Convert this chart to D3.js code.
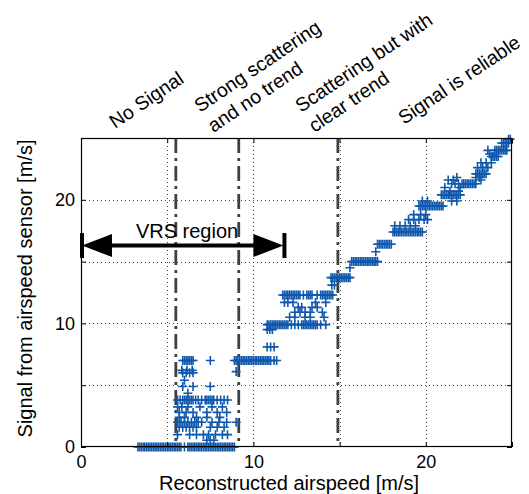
<!DOCTYPE html>
<html>
<head>
<meta charset="utf-8">
<script src="https://cdn.jsdelivr.net/npm/d3@7"></script>
<style>
  html, body { margin: 0; padding: 0; background: #fff; }
  svg { display: block; font-family: "Liberation Sans", Arial, Helvetica, sans-serif; }
</style>
</head>
<body>
<svg id="chart" width="529" height="494"></svg>
<script>
// Quantised airspeed-sensor output [m/s]; sensorLevels[i] pairs with reconstructedAtLevel[i]
const sensorLevels = [
  0, 0.55, 1.0, 1.6, 2.0, 2.4, 2.8, 3.25, 3.8, 4.35, 4.9, 5.4, 6.0, 6.2, 6.1, 7.0,
  8.1, 9.5, 9.9, 10.5, 10.9, 11.3, 11.7, 12.3, 13.1, 13.7, 14.5, 15.0, 15.8, 16.4,
  17.4, 17.9, 18.4, 18.8, 19.5, 19.9, 20.4, 20.7, 21.0, 21.3, 21.6, 21.8, 22.1,
  22.6, 23.0, 23.5, 23.7, 24.0, 24.6, 24.9
];

// Reconstructed airspeed [m/s] of every sample recorded at the matching sensor level
const reconstructedAtLevel = [
  [3.3, 3.4, 3.5, 3.6, 3.7, 3.8, 3.9, 4.0, 4.1, 4.2, 4.3, 4.4, 4.5, 4.6, 4.7, 4.8, 4.9, 5.0,
   5.1, 5.2, 5.3, 5.4, 5.5, 5.6, 5.7, 5.8, 6.0, 6.2, 6.3, 6.4, 6.5, 6.6, 6.7, 6.8, 6.9, 7.0,
   7.1, 7.2, 7.3, 7.4, 7.5, 7.6, 7.7, 7.8, 7.9, 8.0, 8.1, 8.2, 8.3, 8.4, 8.5, 8.6, 8.7, 8.8, 8.9],
  [7.3, 7.5, 7.7],
  [5.6, 6.3, 6.7, 7.1, 7.4, 7.8, 8.2, 8.5],
  [5.7, 5.9, 6.1, 6.3, 6.5, 6.7, 7.5, 7.9, 8.3],
  [5.6, 5.8, 6.0, 6.2, 6.4, 6.6, 6.8, 7.0, 7.6, 8.0, 8.45, 9.0],
  [5.7, 6.0, 6.7, 7.3, 8.05],
  [5.7, 6.1, 6.5, 7.3, 7.9, 8.45],
  [5.6, 5.85, 6.2, 6.9, 7.6, 8.2],
  [5.6, 5.75, 5.9, 6.0, 6.1, 6.2, 6.3, 6.4, 6.5, 6.65, 6.8, 7.0, 7.2, 7.3, 7.4, 7.5, 7.6,
   7.7, 7.9, 8.1, 8.3, 8.5],
  [6.2],
  [5.9, 6.5, 7.5],
  [6.0],
  [5.9, 6.1, 6.3, 6.5],
  [5.85, 6.15, 6.45],
  [9.0],
  [5.9, 6.0, 6.1, 6.2, 6.3, 6.4, 6.5, 7.5, 8.9, 9.0, 9.1, 9.2, 9.3, 9.4, 9.5, 9.6, 9.7,
   9.8, 9.9, 10.0, 10.1, 10.2, 10.3, 10.4, 10.5, 10.6, 10.7, 10.8, 10.9, 11.0, 11.2, 11.35],
  [10.8, 11.0, 11.2],
  [10.8, 10.95, 11.1],
  [10.8, 10.9, 11.0, 11.1, 11.2, 11.3, 11.4, 11.5, 11.6, 11.7, 11.8, 11.9, 12.0, 12.2, 12.4,
   12.6, 12.8, 12.9, 13.0, 13.1, 13.2, 13.3, 13.4, 13.5, 13.6, 13.7, 13.9, 14.2],
  [12.1, 12.4, 13.0, 13.3, 14.1],
  [12.4, 12.7, 13.0, 13.3, 14.0],
  [12.6, 12.8, 13.4, 13.7],
  [11.8, 12.0, 12.3, 13.6, 14.2],
  [11.7, 11.8, 11.9, 12.0, 12.1, 12.2, 12.3, 12.4, 12.5, 12.6, 12.7, 12.9, 13.1, 13.2, 13.3,
   13.4, 13.7, 13.9, 14.0, 14.1, 14.2, 14.3, 14.4, 14.5, 14.6],
  [14.55, 14.7],
  [14.5, 14.6, 14.7, 14.8, 14.9, 15.0, 15.1, 15.2, 15.3, 15.4, 15.5, 15.6],
  [15.6],
  [15.7, 15.8, 15.9, 16.0, 16.1, 16.2, 16.3, 16.4, 16.5, 16.6, 16.7, 16.8, 16.9, 17.0, 17.1, 17.2],
  [17.1],
  [17.2, 17.3, 17.4, 17.5, 17.6, 17.7, 17.8, 17.9, 18.0],
  [18.1, 18.2, 18.3, 18.4, 18.5, 18.6, 18.7, 18.8, 18.9, 19.0, 19.1, 19.2, 19.3, 19.4, 19.5,
   19.6, 19.7, 19.8],
  [18.2, 18.5, 18.8, 19.1, 19.4],
  [19.0, 19.3, 19.6, 19.9, 20.1],
  [19.3, 19.7, 20.0],
  [19.6, 19.7, 19.8, 19.9, 20.0, 20.1, 20.2, 20.3, 20.4, 20.5, 20.6, 20.7, 20.8, 20.9, 21.0],
  [19.8, 20.1, 21.5, 21.8],
  [20.9, 21.0, 21.1, 21.2, 21.3, 21.4, 21.5, 21.6, 21.7, 21.8, 21.9, 22.0],
  [21.4, 21.9],
  [21.1, 22.0],
  [21.5, 21.7, 21.9, 22.1, 22.2, 22.3, 22.4, 22.5, 22.6, 22.7, 22.8, 22.9],
  [21.3, 21.6, 23.2],
  [21.8, 22.9, 23.1],
  [22.9, 23.0, 23.1, 23.2, 23.3, 23.4, 23.5],
  [23.0, 23.3, 23.6],
  [23.2, 23.5, 23.8],
  [23.8, 23.9, 24.0, 24.1, 24.2],
  [23.7],
  [23.6, 24.0, 24.1, 24.2, 24.3, 24.4, 24.5, 24.6, 24.7],
  [24.4, 24.5, 24.6, 24.7, 24.8],
  [24.8, 24.9]
];

// Regime boundaries along the reconstructed airspeed [m/s]
const regimeBounds = [5.5, 9.15, 14.9];

// Regime captions, one entry per text line
const regimeCaptions = [
  ["No Signal"],
  ["Strong scattering", "and no trend"],
  ["Scattering but with", "clear trend"],
  ["Signal is reliable"]
];

// Vortex-ring-state span [m/s] and the sensor level its arrow sits at
const vrsSpan = [0, 11.8];
const vrsLevel = 16.3;
const vrsLabel = "VRS region";

const axisTicks = [0, 5, 10, 15, 20, 25];
const labelledTicks = [0, 10, 20];
const xTitle = "Reconstructed airspeed [m/s]";
const yTitle = "Signal from airspeed sensor [m/s]";

// ---------------------------------------------------------------------------
const svg = d3.select("#chart");
const plot = { left: 81, right: 512, top: 138, bottom: 447 };
const markerColor = "#0f58ac";
const textSize = 20;
const tickSize = 18;

const x = d3.scaleLinear().domain([0, 25]).range([plot.left, plot.right]);
const y = d3.scaleLinear().domain([0, 25]).range([plot.bottom, plot.top]);

const points = sensorLevels.flatMap((lvl, i) =>
  reconstructedAtLevel[i].map(v => ({ airspeed: v, sensor: lvl })));

// dotted grid
const grid = svg.append("g").attr("class", "grid")
  .attr("stroke", "#444").attr("stroke-width", 1).attr("stroke-dasharray", "1,3");
grid.selectAll("line.gx").data(axisTicks.slice(1, -1)).join("line")
  .attr("class", "gx")
  .attr("x1", d => Math.round(x(d)) + 0.5).attr("x2", d => Math.round(x(d)) + 0.5)
  .attr("y1", plot.top).attr("y2", plot.bottom);
grid.selectAll("line.gy").data(axisTicks.slice(1, -1)).join("line")
  .attr("class", "gy")
  .attr("y1", d => Math.round(y(d)) + 0.5).attr("y2", d => Math.round(y(d)) + 0.5)
  .attr("x1", plot.left).attr("x2", plot.right);

// dash-dot regime boundaries
svg.append("g").selectAll("line").data(regimeBounds).join("line")
  .attr("x1", d => x(d)).attr("x2", d => x(d))
  .attr("y1", plot.top).attr("y2", plot.bottom)
  .attr("stroke", "#3a4242").attr("stroke-width", 2.8)
  .attr("stroke-dasharray", "15,5,3,5");

// samples drawn as '+' markers
const arm = 4.5;
svg.append("g").attr("class", "samples")
  .attr("stroke", markerColor).attr("stroke-width", 1.6).attr("fill", "none")
  .selectAll("path").data(points).join("path")
  .attr("d", d => {
    const cx = x(d.airspeed), cy = y(d.sensor);
    return `M${cx - arm},${cy}H${cx + arm}M${cx},${cy - arm}V${cy + arm}`;
  });

// axes: inward ticks on all four sides, labels on bottom and left only
const fmt = d => labelledTicks.includes(d) ? d3.format("d")(d) : "";
const axes = [
  { ax: d3.axisBottom(x).tickValues(axisTicks).tickFormat(fmt).tickSizeInner(-5).tickSizeOuter(0).tickPadding(8), tr: `translate(0,${plot.bottom})` },
  { ax: d3.axisLeft(y).tickValues(axisTicks).tickFormat(fmt).tickSizeInner(-5).tickSizeOuter(0).tickPadding(6), tr: `translate(${plot.left},0)` },
  { ax: d3.axisTop(x).tickValues(axisTicks).tickFormat("").tickSizeInner(-5).tickSizeOuter(0), tr: `translate(0,${plot.top})` },
  { ax: d3.axisRight(y).tickValues(axisTicks).tickFormat("").tickSizeInner(-5).tickSizeOuter(0), tr: `translate(${plot.right},0)` }
];
axes.forEach(({ ax, tr }) => {
  const g = svg.append("g").attr("transform", tr).call(ax);
  g.select(".domain").remove();
  g.selectAll(".tick line").attr("stroke", "#000").attr("stroke-width", 1);
  g.selectAll(".tick text").attr("fill", "#000")
    .attr("font-size", tickSize).attr("font-family", "Liberation Sans, Arial, sans-serif");
});

// axes box
svg.append("rect")
  .attr("x", plot.left + 0.5).attr("y", plot.top + 0.5)
  .attr("width", plot.right - plot.left - 1).attr("height", plot.bottom - plot.top - 1)
  .attr("fill", "none").attr("stroke", "#000").attr("stroke-width", 1.2);

// VRS region double arrow with end bars
const ay = y(vrsLevel), ax0 = x(vrsSpan[0]), ax1 = x(vrsSpan[1]);
const head = 31, halfH = 11.5, barH = 12.5;
const arrow = svg.append("g").attr("class", "vrs");
arrow.append("line")
  .attr("x1", ax0 + head - 2).attr("x2", ax1 - head + 2)
  .attr("y1", ay).attr("y2", ay)
  .attr("stroke", "#000").attr("stroke-width", 4);
arrow.append("path")
  .attr("d", `M${ax0 + 1},${ay}L${ax0 + head},${ay - halfH}L${ax0 + head},${ay + halfH}Z`)
  .attr("fill", "#000");
arrow.append("path")
  .attr("d", `M${ax1 - 1},${ay}L${ax1 - head},${ay - halfH}L${ax1 - head},${ay + halfH}Z`)
  .attr("fill", "#000");
[ax0 + 1, ax1].forEach(bx => arrow.append("line")
  .attr("x1", bx).attr("x2", bx).attr("y1", ay - barH).attr("y2", ay + barH)
  .attr("stroke", "#000").attr("stroke-width", 4));
arrow.append("text")
  .attr("x", x(6.15)).attr("y", ay - 8)
  .attr("text-anchor", "middle").attr("font-size", textSize).attr("fill", "#000")
  .text(vrsLabel);

// slanted regime captions above the axes
const captionAnchors = [[115, 129], [200, 113], [301, 113], [404, 125]];
const angle = -34, lineStep = 24, captionSize = 19.5;
regimeCaptions.forEach((lines, i) => {
  const [cx, cy] = captionAnchors[i];
  const t = svg.append("text")
    .attr("transform", `translate(${cx},${cy}) rotate(${angle})`)
    .attr("font-size", captionSize).attr("fill", "#000");
  lines.forEach((ln, j) => t.append("tspan").attr("x", 0).attr("y", j * lineStep).text(ln));
});

// axis titles
svg.append("text")
  .attr("x", 289).attr("y", 490)
  .attr("text-anchor", "middle").attr("font-size", textSize).attr("fill", "#000")
  .text(xTitle);
svg.append("text")
  .attr("transform", `translate(32,${(plot.top + plot.bottom) / 2 - 4}) rotate(-90)`)
  .attr("text-anchor", "middle").attr("font-size", textSize).attr("fill", "#000")
  .text(yTitle);
</script>
</body>
</html>
